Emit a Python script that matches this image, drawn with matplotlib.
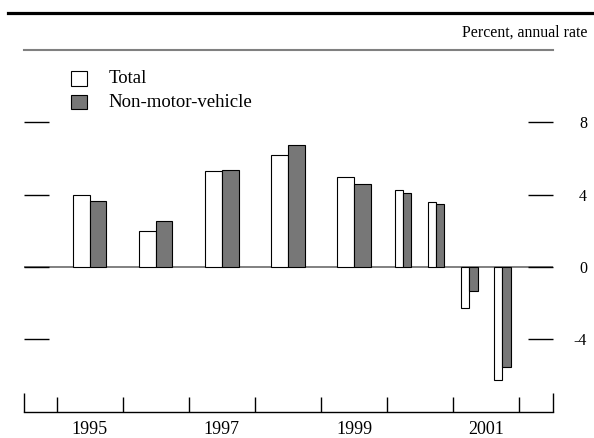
import matplotlib
matplotlib.use("Agg")
import matplotlib.pyplot as plt
from matplotlib.lines import Line2D
from matplotlib.patches import Rectangle
import matplotlib.transforms as mtransforms
import numpy as np

plt.rcParams['font.family'] = ['Liberation Serif', 'DejaVu Serif']

# periods: annual 1995-1999, then half-year/quarter bars
periods = [1995.5, 1996.5, 1997.5, 1998.5, 1999.5, 2000.24, 2000.74, 2001.24, 2001.74]
annual = [True, True, True, True, True, False, False, False, False]
total = [3.96, 1.97, 5.29, 6.22, 4.96, 4.27, 3.57, -2.26, -6.24]
non_motor = [3.64, 2.56, 5.37, 6.74, 4.57, 4.12, 3.47, -1.30, -5.53]
year_labels = ['1995', '1997', '1999', '2001']
year_label_pos = [1995.5, 1997.5, 1999.5, 2001.5]
yticks = [-4, 0, 4, 8]

fig = plt.figure(figsize=(5.94, 4.38), dpi=100)
ax = fig.add_axes([23.5/594, 0.06, 529/594, 0.8258])

widths = np.where(annual, 0.252, 0.126)
x = np.array(periods)
ax.bar(x - widths, total, width=widths, align='edge', color='white',
       edgecolor='black', linewidth=0.8, zorder=3)
ax.bar(x, non_motor, width=widths, align='edge', color='#777777',
       edgecolor='black', linewidth=0.8, zorder=3)

ax.axhline(0, color='#808080', lw=1.4, zorder=1)

ax.set_xlim(1994.5, 2002.5)
ax.set_ylim(-8, 12)

for s in ['left', 'right']:
    ax.spines[s].set_visible(False)
ax.spines['top'].set_color('#808080')
ax.spines['top'].set_linewidth(1.5)
ax.spines['bottom'].set_linewidth(1.0)

# y ticks: inward dashes on both sides, labels on right
ax.set_yticks(yticks)
ax.set_yticklabels([str(v) for v in yticks])
ax.tick_params(axis='y', which='major', direction='in', length=18, width=1.0,
               left=True, right=True, labelleft=False, labelright=True,
               labelsize=11.5, pad=25)
for lab in ax.get_yticklabels():
    lab.set_horizontalalignment('right')

# x ticks: year dividers, labels at mid-year
ax.set_xticks(year_label_pos)
ax.set_xticklabels(year_labels)
ax.set_xticks(np.arange(1995, 2003), minor=True)
ax.tick_params(axis='x', which='major', length=0, labelsize=13, pad=7)
ax.tick_params(axis='x', which='minor', direction='in', length=10.5, width=1.0,
               top=False)

trans = mtransforms.blended_transform_factory(ax.transData, ax.transAxes)
ax.vlines([1994.5, 2002.5], 0, 19/361.7, transform=trans, color='black',
          lw=1.0, clip_on=False)

# legend
ax.add_patch(Rectangle((0.0892, 0.901), 0.030, 0.0400, transform=ax.transAxes,
                       facecolor='white', edgecolor='black', lw=0.8))
ax.add_patch(Rectangle((0.0892, 0.837), 0.030, 0.0400, transform=ax.transAxes,
                       facecolor='#777777', edgecolor='black', lw=0.8))
ax.text(0.160, 0.920, 'Total', transform=ax.transAxes, fontsize=13.5,
        va='center', ha='left')
ax.text(0.160, 0.856, 'Non-motor-vehicle', transform=ax.transAxes,
        fontsize=13.5, va='center', ha='left')

# header rule and unit label
fig.add_artist(Line2D([8/594, 1.0], [1 - 12.7/438, 1 - 12.7/438],
                      color='black', lw=2.3, transform=fig.transFigure))
fig.text(587.5/594, 1 - 33/438, 'Percent, annual rate', fontsize=11.4,
         ha='right', va='center')

fig.savefig('out.png', dpi=100)
